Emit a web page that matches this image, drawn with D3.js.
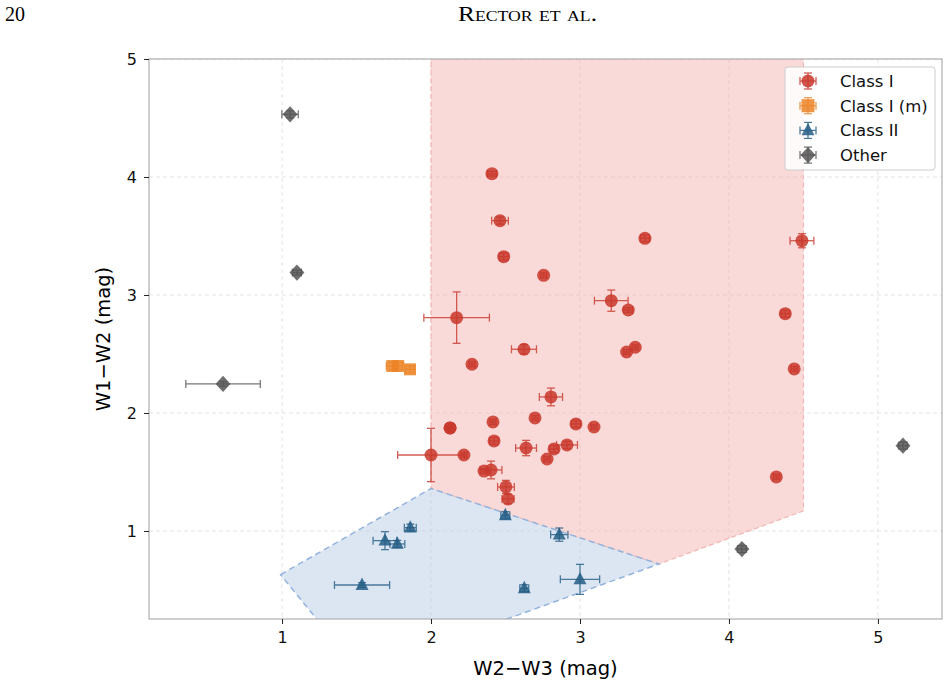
<!DOCTYPE html>
<html><head><meta charset="utf-8">
<script src="https://cdn.jsdelivr.net/npm/d3@7"></script>
<style>body{margin:0;background:#fff;} svg{display:block;}</style>
</head><body>
<svg id="chart" width="950" height="685"></svg>
<script>
// ---- data ----
const xTicks = [1, 2, 3, 4, 5];
const yTicks = [1, 2, 3, 4, 5];

const classI_x    = [2.409, 2.463, 2.488, 2.756, 3.436, 4.49, 3.21, 3.324, 2.172, 4.378, 2.624, 2.275, 3.371, 3.313, 4.438, 2.805, 2.416, 2.698, 2.128, 2.128, 2.973, 3.094, 2.423, 2.0, 2.221, 2.638, 2.826, 2.913, 2.779, 2.356, 2.403, 2.503, 2.517, 4.318];
const classI_y    = [4.028, 3.63, 3.325, 3.167, 3.48, 3.46, 2.952, 2.873, 2.808, 2.842, 2.54, 2.413, 2.557, 2.517, 2.373, 2.136, 1.924, 1.958, 1.873, 1.873, 1.907, 1.881, 1.763, 1.644, 1.644, 1.703, 1.695, 1.729, 1.61, 1.508, 1.517, 1.373, 1.271, 1.458];
const classI_xerr = [0.03, 0.056, 0.03, 0.02, 0.03, 0.08, 0.113, 0.03, 0.22, 0.03, 0.084, 0.02, 0.02, 0.02, 0.02, 0.078, 0.02, 0.02, 0.01, 0.01, 0.03, 0.02, 0.03, 0.224, 0.02, 0.07, 0.03, 0.07, 0.02, 0.02, 0.073, 0.056, 0.04, 0.02];
const classI_yerr = [0.02, 0.03, 0.03, 0.02, 0.03, 0.06, 0.09, 0.02, 0.218, 0.03, 0.04, 0.02, 0.02, 0.02, 0.02, 0.075, 0.02, 0.02, 0.01, 0.01, 0.03, 0.02, 0.03, 0.226, 0.02, 0.065, 0.03, 0.03, 0.02, 0.02, 0.075, 0.056, 0.04, 0.02];

const classIm_x    = [1.74, 1.78, 1.859];
const classIm_y    = [2.398, 2.398, 2.37];
const classIm_xerr = [0.04, 0.03, 0.03];
const classIm_yerr = [0.03, 0.03, 0.03];

const classII_x    = [2.499, 2.861, 3.0, 2.626, 1.861, 1.691, 1.774, 1.537];
const classII_y    = [1.133, 0.969, 0.59, 0.514, 1.028, 0.918, 0.89, 0.542];
const classII_xerr = [0.03, 0.058, 0.132, 0.03, 0.04, 0.08, 0.05, 0.185];
const classII_yerr = [0.03, 0.056, 0.127, 0.03, 0.03, 0.076, 0.03, 0.02];

const other_x    = [1.054, 1.10, 0.604, 4.087, 5.168];
const other_y    = [4.531, 3.19, 2.246, 0.847, 1.723];
const other_xerr = [0.055, 0.03, 0.25, 0.03, 0.03];
const other_yerr = [0.03, 0.02, 0.02, 0.03, 0.03];

const classIRegion  = [[2.0, 5.0], [4.5, 5.0], [4.5, 1.17], [3.53, 0.72], [2.0, 1.36]];
const classIIRegion = [[0.99, 0.63], [2.0, 1.36], [3.53, 0.72], [1.954, 0.0], [1.396, 0.0]];

const seriesNames = ["Class I", "Class I (m)", "Class II", "Other"];
const seriesColors = ["#c9372c", "#ec8426", "#245d85", "#555555"];

// ---- layout ----
const svg = d3.select("#chart");
const L = 149, R = 942, T = 59, B = 619;
const x = d3.scaleLinear().domain([0.107, 5.43]).range([L, R]);
const y = d3.scaleLinear().domain([0.254, 5.0]).range([B, T]);

// header
svg.append("text").attr("x", 5).attr("y", 21).attr("font-family", "Liberation Serif, DejaVu Serif, serif")
  .attr("font-size", 20).attr("textLength", 20).attr("lengthAdjust", "spacingAndGlyphs").text("20");
svg.append("text").attr("x", 458).attr("y", 21)
  .attr("font-family", "Liberation Serif, DejaVu Serif, serif").attr("font-size", 20)
  .attr("textLength", 139).attr("lengthAdjust", "spacingAndGlyphs")
  .style("font-variant", "small-caps").text("Rector et al.");

svg.append("defs").append("clipPath").attr("id", "clip")
  .append("rect").attr("x", L).attr("y", T).attr("width", R - L).attr("height", B - T);

// grid
const grid = svg.append("g");
xTicks.forEach(t => grid.append("line").attr("x1", x(t)).attr("x2", x(t)).attr("y1", T).attr("y2", B)
  .attr("stroke", "#dcdcdc").attr("stroke-width", 0.8).attr("stroke-dasharray", "4,3"));
yTicks.forEach(t => grid.append("line").attr("x1", L).attr("x2", R).attr("y1", y(t)).attr("y2", y(t))
  .attr("stroke", "#dcdcdc").attr("stroke-width", 0.8).attr("stroke-dasharray", "4,3"));

// regions
const plot = svg.append("g").attr("clip-path", "url(#clip)");
const line = d3.line().x(d => x(d[0])).y(d => y(d[1]));
plot.append("path").attr("d", line(classIRegion) + "Z")
  .attr("fill", "#f4b6b1").attr("fill-opacity", 0.5)
  .attr("stroke", "#f0b8b4").attr("stroke-width", 1.2).attr("stroke-dasharray", "5,3");
plot.append("path").attr("d", line(classIIRegion) + "Z")
  .attr("fill", "#b9cde8").attr("fill-opacity", 0.5)
  .attr("stroke", "#93b3de").attr("stroke-width", 1.5).attr("stroke-dasharray", "6,4");

// markers
function markerPath(type, size) {
  const p = d3.path();
  if (type === "circle") { p.arc(0, 0, size, 0, 2 * Math.PI); }
  else if (type === "square") { p.rect(-size, -size, 2 * size, 2 * size); }
  else if (type === "triangle") { p.moveTo(0, -size * 1.15); p.lineTo(size, size * 0.75); p.lineTo(-size, size * 0.75); p.closePath(); }
  else if (type === "diamond") { p.moveTo(0, -size * 1.25); p.lineTo(size * 1.15, 0); p.lineTo(0, size * 1.25); p.lineTo(-size * 1.15, 0); p.closePath(); }
  return p.toString();
}

function drawSeries(xs, ys, xe, ye, color, type, size) {
  const g = plot.append("g");
  xs.forEach((xv, i) => {
    const cx = x(xv), cy = y(ys[i]);
    const x0 = x(xv - xe[i]), x1 = x(xv + xe[i]);
    const y0 = y(ys[i] - ye[i]), y1 = y(ys[i] + ye[i]);
    const e = g.append("g").attr("stroke", color).attr("stroke-width", 1.3).attr("opacity", 0.8);
    e.append("line").attr("x1", x0).attr("x2", x1).attr("y1", cy).attr("y2", cy);
    e.append("line").attr("x1", cx).attr("x2", cx).attr("y1", y0).attr("y2", y1);
    const c = 4;
    e.append("line").attr("x1", x0).attr("x2", x0).attr("y1", cy - c).attr("y2", cy + c);
    e.append("line").attr("x1", x1).attr("x2", x1).attr("y1", cy - c).attr("y2", cy + c);
    e.append("line").attr("x1", cx - c).attr("x2", cx + c).attr("y1", y0).attr("y2", y0);
    e.append("line").attr("x1", cx - c).attr("x2", cx + c).attr("y1", y1).attr("y2", y1);
  });
  xs.forEach((xv, i) => {
    g.append("path").attr("d", markerPath(type, size))
      .attr("transform", `translate(${x(xv)},${y(ys[i])})`)
      .attr("fill", color).attr("fill-opacity", 0.85);
  });
}

drawSeries(classI_x, classI_y, classI_xerr, classI_yerr, seriesColors[0], "circle", 6.5);
drawSeries(classIm_x, classIm_y, classIm_xerr, classIm_yerr, seriesColors[1], "square", 6);
drawSeries(classII_x, classII_y, classII_xerr, classII_yerr, seriesColors[2], "triangle", 6.5);
drawSeries(other_x, other_y, other_xerr, other_yerr, seriesColors[3], "diamond", 6.5);

// frame
svg.append("rect").attr("x", L).attr("y", T).attr("width", R - L).attr("height", B - T)
  .attr("fill", "none").attr("stroke", "#b0b0b0").attr("stroke-width", 1.2);

// axes
const xAxis = svg.append("g").attr("transform", `translate(0,${B})`)
  .call(d3.axisBottom(x).tickValues(xTicks).tickSize(5).tickPadding(8).tickFormat(d3.format("d")));
const yAxis = svg.append("g").attr("transform", `translate(${L},0)`)
  .call(d3.axisLeft(y).tickValues(yTicks).tickSize(5).tickPadding(7).tickFormat(d3.format("d")));
[xAxis, yAxis].forEach(a => {
  a.select(".domain").remove();
  a.selectAll(".tick line").attr("stroke", "#222").attr("stroke-width", 1);
  a.selectAll(".tick text").attr("font-family", "DejaVu Sans, sans-serif").attr("font-size", 16).attr("fill", "#111");
});

svg.append("text").attr("x", (L + R) / 2).attr("y", 675).attr("text-anchor", "middle")
  .attr("font-family", "DejaVu Sans, sans-serif").attr("font-size", 19.5).text("W2\u2212W3 (mag)");
svg.append("text").attr("transform", `translate(110,${(T + B) / 2}) rotate(-90)`).attr("text-anchor", "middle")
  .attr("font-family", "DejaVu Sans, sans-serif").attr("font-size", 19.5).text("W1\u2212W2 (mag)");

// legend
const lg = svg.append("g").attr("transform", "translate(785,67)");
lg.append("rect").attr("width", 150).attr("height", 103).attr("rx", 3)
  .attr("fill", "#fff").attr("fill-opacity", 0.85).attr("stroke", "#cccccc");
const types = ["circle", "square", "triangle", "diamond"];
seriesNames.forEach((n, i) => {
  const yy = 14 + i * 24.7;
  const g = lg.append("g").attr("transform", `translate(23,${yy})`);
  const e = g.append("g").attr("stroke", seriesColors[i]).attr("stroke-width", 1.3).attr("opacity", 0.8);
  e.append("line").attr("x1", -8).attr("x2", 8).attr("y1", 0).attr("y2", 0);
  e.append("line").attr("x1", 0).attr("x2", 0).attr("y1", -8).attr("y2", 8);
  e.append("line").attr("x1", -8).attr("x2", -8).attr("y1", -4).attr("y2", 4);
  e.append("line").attr("x1", 8).attr("x2", 8).attr("y1", -4).attr("y2", 4);
  e.append("line").attr("x1", -4).attr("x2", 4).attr("y1", -8).attr("y2", -8);
  e.append("line").attr("x1", -4).attr("x2", 4).attr("y1", 8).attr("y2", 8);
  g.append("path").attr("d", markerPath(types[i], 6.5)).attr("fill", seriesColors[i]).attr("fill-opacity", 0.85);
  lg.append("text").attr("x", 55).attr("y", yy + 6).attr("font-family", "DejaVu Sans, sans-serif")
    .attr("font-size", 16.5).attr("fill", "#111").text(n);
});
</script>
</body></html>
